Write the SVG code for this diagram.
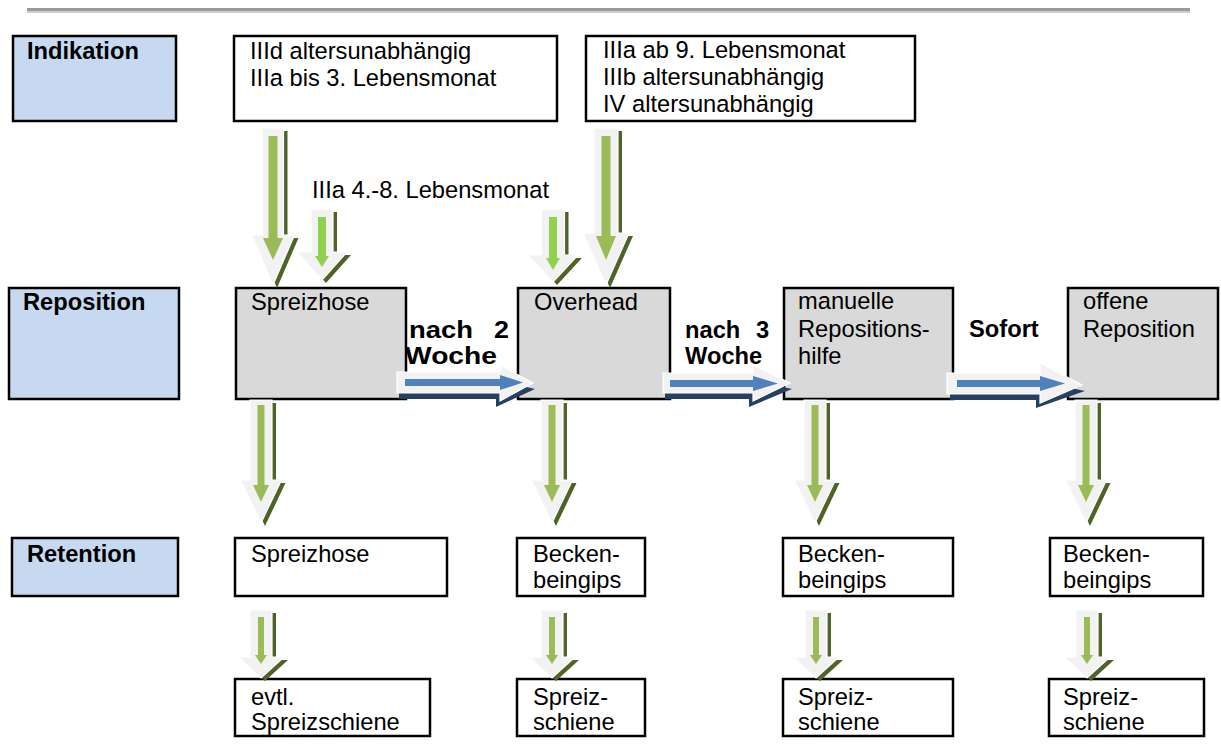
<svg xmlns="http://www.w3.org/2000/svg" width="1221" height="756" viewBox="0 0 1221 756">
  <style>
    text { font-family: "Liberation Sans", Arial, sans-serif; font-size: 23.7px; fill: #000; }
    .b { font-weight: bold; }
    .lab { fill: #c6d9f1; stroke: #000; stroke-width: 2.5; }
    .box { fill: #fff; stroke: #000; stroke-width: 2.5; }
    .gbox { fill: #d9d9d9; stroke: #000; stroke-width: 2.5; }
    .ashade { fill: #4f6228; }
    .abody { fill: #f2f2f2; stroke: #fff; stroke-width: 1.2; }
    .ain { fill: #9bbb59; }
    .ainl { fill: #92d050; }
    .bshade { fill: #254061; }
    .bin { fill: #4f81bd; }
  </style>

  <!-- header rule -->
  <rect x="27" y="8" width="1163" height="3" fill="#9a9a9a"/>
  <rect x="27" y="11" width="1163" height="2" fill="#cfcfcf"/>

  <!-- row labels -->
  <g id="label-indikation">
    <rect class="lab" x="13" y="36" width="163" height="85"/>
    <text class="b" x="27" y="59">Indikation</text>
  </g>
  <g id="label-reposition">
    <rect class="lab" x="9" y="288" width="170" height="111"/>
    <text class="b" x="23" y="310">Reposition</text>
  </g>
  <g id="label-retention">
    <rect class="lab" x="12" y="538" width="166" height="58"/>
    <text class="b" x="27" y="562">Retention</text>
  </g>

  <!-- indication boxes -->
  <g id="ind-1">
    <rect class="box" x="234" y="36" width="323" height="85"/>
    <text x="250" y="59">IIId altersunabhängig</text>
    <text x="250" y="86">IIIa bis 3. Lebensmonat</text>
  </g>
  <g id="ind-2">
    <rect class="box" x="586" y="36" width="329" height="85"/>
    <text x="603" y="58">IIIa ab 9. Lebensmonat</text>
    <text x="603" y="85">IIIb altersunabhängig</text>
    <text x="603" y="112">IV altersunabhängig</text>
  </g>

  <!-- reposition boxes -->
  <g id="rep-spreizhose">
    <rect class="gbox" x="236" y="288" width="170" height="111"/>
    <text x="251" y="310">Spreizhose</text>
  </g>
  <g id="rep-overhead">
    <rect class="gbox" x="518" y="288" width="152" height="111"/>
    <text x="534" y="310">Overhead</text>
  </g>
  <g id="rep-manuell">
    <rect class="gbox" x="784" y="288" width="169" height="111"/>
    <text x="798" y="309">manuelle</text>
    <text x="798" y="337">Repositions-</text>
    <text x="798" y="364">hilfe</text>
  </g>
  <g id="rep-offen">
    <rect class="gbox" x="1068" y="288" width="150" height="111"/>
    <text x="1083" y="309">offene</text>
    <text x="1083" y="337">Reposition</text>
  </g>

  <!-- retention boxes -->
  <g id="ret-spreizhose">
    <rect class="box" x="235" y="538" width="212" height="58"/>
    <text x="251" y="562">Spreizhose</text>
  </g>
  <g id="ret-gips-2">
    <rect class="box" x="517" y="538" width="128" height="58"/>
    <text x="533" y="562">Becken-</text>
    <text x="533" y="588">beingips</text>
  </g>
  <g id="ret-gips-3">
    <rect class="box" x="783" y="538" width="170" height="58"/>
    <text x="798" y="562">Becken-</text>
    <text x="798" y="588">beingips</text>
  </g>
  <g id="ret-gips-4">
    <rect class="box" x="1050" y="538" width="153" height="58"/>
    <text x="1063" y="562">Becken-</text>
    <text x="1063" y="588">beingips</text>
  </g>

  <!-- follow-up boxes -->
  <g id="fol-1">
    <rect class="box" x="235" y="679" width="195" height="57"/>
    <text x="251" y="705">evtl.</text>
    <text x="251" y="730">Spreizschiene</text>
  </g>
  <g id="fol-2">
    <rect class="box" x="517" y="679" width="128" height="57"/>
    <text x="533" y="705">Spreiz-</text>
    <text x="533" y="730">schiene</text>
  </g>
  <g id="fol-3">
    <rect class="box" x="783" y="679" width="170" height="57"/>
    <text x="798" y="705">Spreiz-</text>
    <text x="798" y="730">schiene</text>
  </g>
  <g id="fol-4">
    <rect class="box" x="1049" y="679" width="155" height="57"/>
    <text x="1063" y="705">Spreiz-</text>
    <text x="1063" y="730">schiene</text>
  </g>

  <!-- connectors: green block arrows down, blue block arrows right -->
  <g id="connectors">
    <!-- ind-1 -> Spreizhose -->
    <g transform="translate(273,0)">
      <path class="ashade" transform="translate(4,3)" d="M-10.5,128 H10.5 V235 H21.5 L0,285 L-21.5,235 H-10.5 Z"/>
      <path class="abody" d="M-10.5,128 H10.5 V235 H21.5 L0,285 L-21.5,235 H-10.5 Z"/>
      <path class="ain" d="M-4.5,136 H4.5 V238 H10 L0,260 L-10,238 H-4.5 Z"/>
    </g>
    <!-- IIIa 4.-8. -> Spreizhose -->
    <g transform="translate(322,0)">
      <path class="ashade" transform="translate(4,3)" d="M-11,209 H11 V252 H25 L0,280 L-25,252 H-11 Z"/>
      <path class="abody" d="M-11,209 H11 V252 H25 L0,280 L-25,252 H-11 Z"/>
      <path class="ainl" d="M-4,217 H4 V256 H7 L0,267 L-7,256 H-4 Z"/>
    </g>
    <text x="312" y="198">IIIa 4.-8. Lebensmonat</text>
    <!-- IIIa 4.-8. -> Overhead -->
    <g transform="translate(553,0)">
      <path class="ashade" transform="translate(4,3)" d="M-11.5,209 H11.5 V255 H25 L0,282 L-25,255 H-11.5 Z"/>
      <path class="abody" d="M-11.5,209 H11.5 V255 H25 L0,282 L-25,255 H-11.5 Z"/>
      <path class="ainl" d="M-4,217 H4 V258 H7 L0,270 L-7,258 H-4 Z"/>
    </g>
    <!-- ind-2 -> Overhead -->
    <g transform="translate(606,0)">
      <path class="ashade" transform="translate(4,3)" d="M-12,128 H12 V233 H23 L0,285 L-23,233 H-12 Z"/>
      <path class="abody" d="M-12,128 H12 V233 H23 L0,285 L-23,233 H-12 Z"/>
      <path class="ain" d="M-4.5,136 H4.5 V236 H10 L0,260 L-10,236 H-4.5 Z"/>
    </g>

    <!-- reposition -> retention -->
    <g transform="translate(261,0)">
      <path class="ashade" transform="translate(4,3)" d="M-11,400 H11 V480 H20.5 L0,523 L-20.5,480 H-11 Z"/>
      <path class="abody" d="M-11,400 H11 V480 H20.5 L0,523 L-20.5,480 H-11 Z"/>
      <path class="ain" d="M-3.5,405 H3.5 V485 H8 L0,502 L-8,485 H-3.5 Z"/>
    </g>
    <g transform="translate(552,0)">
      <path class="ashade" transform="translate(4,3)" d="M-11,400 H11 V480 H20.5 L0,523 L-20.5,480 H-11 Z"/>
      <path class="abody" d="M-11,400 H11 V480 H20.5 L0,523 L-20.5,480 H-11 Z"/>
      <path class="ain" d="M-3.5,405 H3.5 V485 H8 L0,502 L-8,485 H-3.5 Z"/>
    </g>
    <g transform="translate(815,0)">
      <path class="ashade" transform="translate(4,3)" d="M-11,400 H11 V480 H20.5 L0,523 L-20.5,480 H-11 Z"/>
      <path class="abody" d="M-11,400 H11 V480 H20.5 L0,523 L-20.5,480 H-11 Z"/>
      <path class="ain" d="M-3.5,405 H3.5 V485 H8 L0,502 L-8,485 H-3.5 Z"/>
    </g>
    <g transform="translate(1086,0)">
      <path class="ashade" transform="translate(4,3)" d="M-11,400 H11 V480 H20.5 L0,523 L-20.5,480 H-11 Z"/>
      <path class="abody" d="M-11,400 H11 V480 H20.5 L0,523 L-20.5,480 H-11 Z"/>
      <path class="ain" d="M-3.5,405 H3.5 V485 H8 L0,502 L-8,485 H-3.5 Z"/>
    </g>

    <!-- retention -> follow-up -->
    <g transform="translate(261,0)">
      <path class="ashade" transform="translate(4,3)" d="M-11,610 H11 V657 H23 L0,678 L-23,657 H-11 Z"/>
      <path class="abody" d="M-11,610 H11 V657 H23 L0,678 L-23,657 H-11 Z"/>
      <path class="ain" d="M-3,617 H3 V655 H6 L0,664 L-6,655 H-3 Z"/>
    </g>
    <g transform="translate(552,0)">
      <path class="ashade" transform="translate(4,3)" d="M-11,610 H11 V657 H23 L0,678 L-23,657 H-11 Z"/>
      <path class="abody" d="M-11,610 H11 V657 H23 L0,678 L-23,657 H-11 Z"/>
      <path class="ain" d="M-3,617 H3 V655 H6 L0,664 L-6,655 H-3 Z"/>
    </g>
    <g transform="translate(816,0)">
      <path class="ashade" transform="translate(4,3)" d="M-11,610 H11 V657 H23 L0,678 L-23,657 H-11 Z"/>
      <path class="abody" d="M-11,610 H11 V657 H23 L0,678 L-23,657 H-11 Z"/>
      <path class="ain" d="M-3,617 H3 V655 H6 L0,664 L-6,655 H-3 Z"/>
    </g>
    <g transform="translate(1087,0)">
      <path class="ashade" transform="translate(4,3)" d="M-11,610 H11 V657 H23 L0,678 L-23,657 H-11 Z"/>
      <path class="abody" d="M-11,610 H11 V657 H23 L0,678 L-23,657 H-11 Z"/>
      <path class="ain" d="M-3,617 H3 V655 H6 L0,664 L-6,655 H-3 Z"/>
    </g>

    <!-- Spreizhose -> Overhead -->
    <path class="bshade" d="M399,389 H498 V380 L535,389 L496,407 V399 H399 Z"/>
    <path class="abody" d="M397,372 H500 V365 L533,383 L500,401 V393 H397 Z"/>
    <path class="bin" d="M405,379 H500 V375 L523,382.5 L500,390 V386 H405 Z"/>
    <text class="b" x="409" y="338" textLength="64" lengthAdjust="spacingAndGlyphs">nach</text>
    <text class="b" x="494" y="338" textLength="15" lengthAdjust="spacingAndGlyphs">2</text>
    <text class="b" x="405" y="364" textLength="92" lengthAdjust="spacingAndGlyphs">Woche</text>

    <!-- Overhead -> manuelle Repositionshilfe -->
    <path class="bshade" d="M665,389 H751 V380 L792,389 L749,407 V399 H665 Z"/>
    <path class="abody" d="M663,373 H753 V365 L790,383 L753,401 V393 H663 Z"/>
    <path class="bin" d="M670,380 H753 V376 L778,383.5 L753,391 V387 H670 Z"/>
    <text class="b" x="685" y="338">nach</text>
    <text class="b" x="756" y="338">3</text>
    <text class="b" x="685" y="364">Woche</text>

    <!-- manuelle Repositionshilfe -> offene Reposition -->
    <path class="bshade" d="M950,390 H1038 V381 L1085,391 L1036,408 V400 H950 Z"/>
    <path class="abody" d="M947,373 H1040 V363 L1082,385 L1040,403 V394 H947 Z"/>
    <path class="bin" d="M957,380 H1040 V376 L1065,383.5 L1040,391 V387 H957 Z"/>
    <text class="b" x="969" y="337">Sofort</text>
  </g>
</svg>
